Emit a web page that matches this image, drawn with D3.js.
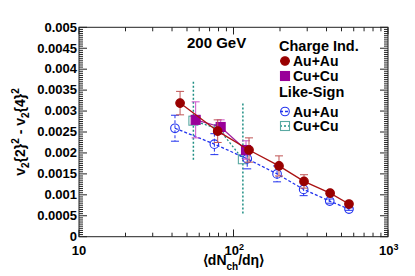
<!DOCTYPE html>
<html>
<head>
<meta charset="utf-8">
<script src="https://cdn.jsdelivr.net/npm/d3@7"></script>
<style>
  body { margin: 0; background: #fff; }
  text { font-family: "Liberation Sans", Arial, sans-serif; font-weight: bold; fill: #000; }
</style>
</head>
<body>
<div id="chart"></div>
<script>
// charge-independent, Au+Au
var auauX = [45.1, 79, 126, 197, 286, 422, 559];
var auauY = [0.00319, 0.00252, 0.00207, 0.00169, 0.00132, 0.00104, 0.00078];
var auauErr = [0.00028, 0.00027, 0.00029, 0.00024, 0.00016, 0.00005, 0.00003];
// charge-independent, Cu+Cu
var cucuX = [56.9, 82.6, 120.5];
var cucuY = [0.00279, 0.00262, 0.00207];
var cucuErr = [0.00043, 0.00017, 0.00022];
// like-sign, Au+Au
var lsAuauX = [41.8, 75.2, 122.7, 191.4, 284.5, 419.6, 559];
var lsAuauY = [0.00259, 0.00221, 0.00186, 0.00150, 0.00113, 0.00085, 0.00066];
var lsAuauErr = [0.00031, 0.00025, 0.00024, 0.00019, 0.00015, 0.00005, 0.00003];
// like-sign, Cu+Cu
var lsCucuX = [55, 80.5, 115];
var lsCucuY = [0.00277, 0.00257, 0.00185];
var lsCucuErr = [0.00093, 0.0001, 0.00133];

var yMajor = d3.range(0, 0.00501, 0.0005);
var xMajor = [10, 100, 1000];

const width = 415, height = 276;
const margin = { top: 27.3, right: 27, bottom: 39.3, left: 79 };

const svg = d3.select('#chart').append('svg')
  .attr('width', width).attr('height', height);

const x = d3.scaleLog().domain([10, 1000]).range([margin.left, width - margin.right]);
const y = d3.scaleLinear().domain([0, 0.005]).range([height - margin.bottom, margin.top]);

const x0 = x.range()[0], x1 = x.range()[1], y0 = y.range()[0], y1 = y.range()[1];

// frame
svg.append('rect')
  .attr('x', x0).attr('y', y1).attr('width', x1 - x0).attr('height', y0 - y1)
  .attr('fill', 'none').attr('stroke', '#222').attr('stroke-width', 1);

// y ticks (left + right mirror)
var yMinor = d3.range(0, 0.005001, 0.00005);
var ticks = svg.append('g').attr('stroke', '#222').attr('stroke-width', 1);
yMinor.forEach(function (v, i) {
  var len = (i % 10 === 0) ? 8 : 4;
  ticks.append('line').attr('x1', x0).attr('x2', x0 + len).attr('y1', y(v)).attr('y2', y(v));
  ticks.append('line').attr('x1', x1).attr('x2', x1 - len).attr('y1', y(v)).attr('y2', y(v));
});
// x ticks (bottom + top mirror)
var xMinor = [];
[10, 100].forEach(function (d) { for (var k = 1; k <= 10; k++) xMinor.push(d * k); });
xMinor.forEach(function (v) {
  var len = xMajor.indexOf(v) >= 0 ? 7 : 4;
  ticks.append('line').attr('x1', x(v)).attr('x2', x(v)).attr('y1', y0).attr('y2', y0 - len);
  ticks.append('line').attr('x1', x(v)).attr('x2', x(v)).attr('y1', y1).attr('y2', y1 + len);
});

// y labels
svg.append('g').selectAll('text').data(yMajor).enter().append('text')
  .attr('x', x0 - 2).attr('y', d => y(d) + 4.3)
  .attr('text-anchor', 'end').style('font-size', '13px')
  .text(d => d < 1e-9 ? '0' : String(+d.toFixed(4)));

// x labels
xMajor.forEach(function (v, i) {
  var t = svg.append('text').attr('y', 255).style('font-size', '13px');
  if (i === 0) {
    t.attr('x', x(v)).attr('text-anchor', 'middle').text('10');
  } else {
    t.attr('x', x(v) - 9).attr('text-anchor', 'start');
    t.append('tspan').text('10');
    t.append('tspan').attr('dy', -5).style('font-size', '9px').text(i === 1 ? '2' : '3');
  }
});

// axis titles
var xt = svg.append('text').attr('x', (x0 + x1) / 2).attr('y', 265)
  .attr('text-anchor', 'middle').style('font-size', '14px');
xt.append('tspan').text('\u27E8dN');
xt.append('tspan').attr('dy', 5).style('font-size', '10px').text('ch');
xt.append('tspan').attr('dy', -5).text('/d\u03B7\u27E9');

var yt = svg.append('text')
  .attr('transform', 'translate(25,' + ((y0 + y1) / 2) + ') rotate(-90)')
  .attr('text-anchor', 'middle').style('font-size', '14px');
yt.append('tspan').text('v');
yt.append('tspan').attr('dy', 4).style('font-size', '10px').text('2');
yt.append('tspan').attr('dy', -4).text('{2}');
yt.append('tspan').attr('dy', -6).style('font-size', '10px').text('2');
yt.append('tspan').attr('dy', 6).text(' - v');
yt.append('tspan').attr('dy', 4).style('font-size', '10px').text('2');
yt.append('tspan').attr('dy', -4).text('{4}');
yt.append('tspan').attr('dy', -6).style('font-size', '10px').text('2');

// series
var series = [
  { xs: lsCucuX, ys: lsCucuY, es: lsCucuErr, line: '#1f8f84', dash: '2,2', cap: false, marker: 'square', fill: 'none', stroke: '#5aa9a2' },
  { xs: lsAuauX, ys: lsAuauY, es: lsAuauErr, line: '#2233ee', dash: '3,2', cap: true, marker: 'circle', fill: 'none', stroke: '#2233ee' },
  { xs: cucuX, ys: cucuY, es: cucuErr, line: '#a020a0', dash: null, cap: true, capColor: '#cc55cc', marker: 'square', fill: '#990099', stroke: '#990099' },
  { xs: auauX, ys: auauY, es: auauErr, line: '#aa1111', dash: null, cap: true, capColor: '#c05555', marker: 'circle', fill: '#990000', stroke: '#990000' }
];

function drawMarker(g, s, cx, cy) {
  if (s.marker === 'circle') {
    g.append('circle').attr('cx', cx).attr('cy', cy).attr('r', 4.3)
      .attr('fill', s.fill).attr('stroke', s.stroke).attr('stroke-width', 1.1);
  } else {
    g.append('rect').attr('x', cx - 4.5).attr('y', cy - 4.5).attr('width', 9).attr('height', 9)
      .attr('fill', s.fill).attr('stroke', s.stroke).attr('stroke-width', 1.1);
  }
}

series.forEach(function (s) {
  var g = svg.append('g');
  var pts = s.xs.map((d, i) => [x(d), y(s.ys[i])]);
  g.append('path').attr('d', d3.line()(pts)).attr('fill', 'none')
    .attr('stroke', s.line).attr('stroke-width', 1.3)
    .attr('stroke-dasharray', s.dash);
  var ec = s.capColor || s.line;
  s.xs.forEach(function (d, i) {
    var cx = x(d);
    var top = y(s.ys[i] + s.es[i]), bot = y(s.ys[i] - s.es[i]);
    g.append('line').attr('x1', cx).attr('x2', cx).attr('y1', top).attr('y2', bot)
      .attr('stroke', ec).attr('stroke-width', s.cap ? 1 : 1.5).attr('stroke-dasharray', s.dash);
    if (s.cap) {
      g.append('line').attr('x1', cx - 4).attr('x2', cx + 4).attr('y1', top).attr('y2', top).attr('stroke', ec);
      g.append('line').attr('x1', cx - 4).attr('x2', cx + 4).attr('y1', bot).attr('y2', bot).attr('stroke', ec);
    }
  });
  s.xs.forEach(function (d, i) { drawMarker(g, s, x(d), y(s.ys[i])); });
});

// labels / legend
svg.append('text').attr('x', 187).attr('y', 48).style('font-size', '15px').text('200 GeV');
svg.append('text').attr('x', 279).attr('y', 51).style('font-size', '14.5px').text('Charge Ind.');
svg.append('text').attr('x', 279).attr('y', 97).style('font-size', '14.5px').text('Like-Sign');

var legendRows = [
  { s: series[3], label: 'Au+Au', y: 61 },
  { s: series[2], label: 'Cu+Cu', y: 76 },
  { s: series[1], label: 'Au+Au', y: 111.5 },
  { s: series[0], label: 'Cu+Cu', y: 126 }
];
legendRows.forEach(function (r) {
  var g = svg.append('g');
  g.append('line').attr('x1', 280).attr('x2', 290).attr('y1', r.y).attr('y2', r.y)
    .attr('stroke', r.s.line).attr('stroke-width', 1.3).attr('stroke-dasharray', r.s.dash);
  drawMarker(g, r.s, 285, r.y);
  g.append('text').attr('x', 293).attr('y', r.y + 5.2).style('font-size', '14px').text(r.label);
});
</script>
</body>
</html>
